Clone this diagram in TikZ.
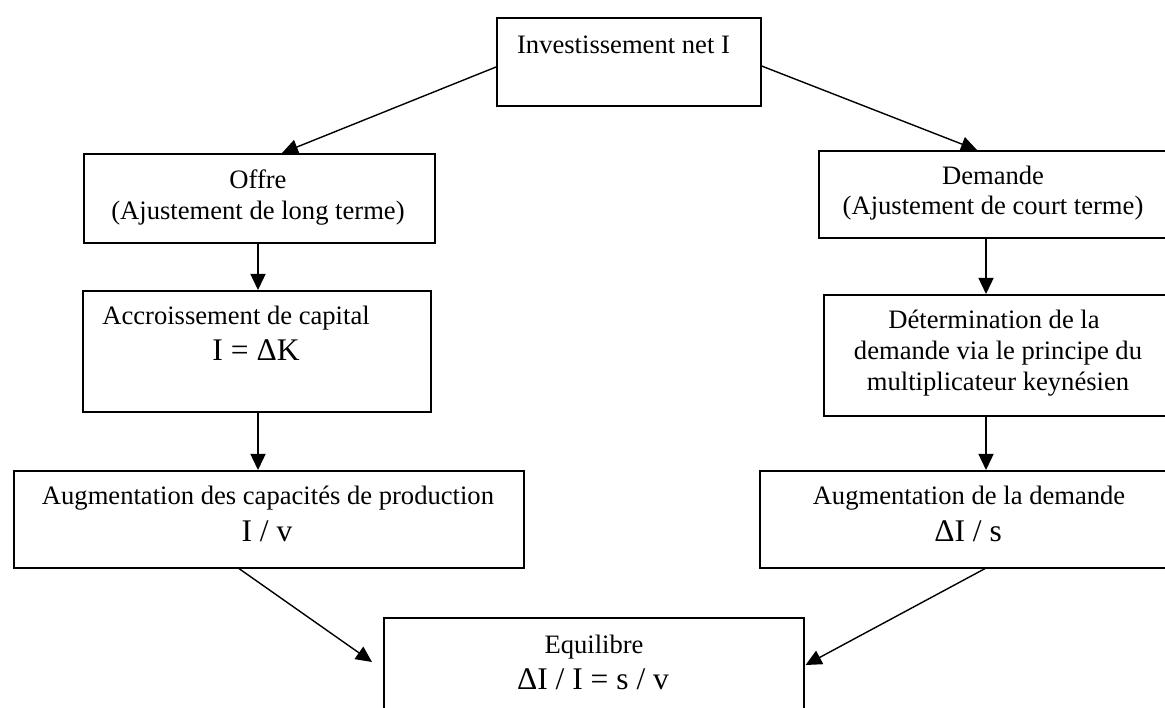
\documentclass[tikz,border=0pt]{standalone}
\usepackage{fontspec}
\setmainfont{Liberation Serif}
\usetikzlibrary{arrows.meta,calc}
\begin{document}
\begin{tikzpicture}[x=1pt,y=-1pt,
  box/.style={draw, line width=1.6pt, inner sep=0pt, anchor=north west},
  txt/.style={anchor=base, inner sep=0pt, font=\fontsize{26.6}{31}\selectfont},
  frm/.style={anchor=base, inner sep=0pt, font=\fontsize{31.5}{36}\selectfont},
  arr/.style={line width=1.4pt, -{Triangle[length=16pt,width=15pt]}}]
\useasboundingbox (0,0) rectangle (1165,708);
\clip (0,0) rectangle (1165,708);
\fill[white] (0,0) rectangle (1165,708);

% top
\node[box, minimum width=264pt, minimum height=88pt] (inv) at (496,17) {};
\node[txt] (invT) at (623.5,54) {Investissement net I};

% left column
\node[box, minimum width=351pt, minimum height=89pt] (off) at (83,153) {};
\node[txt] (offT1) at (258,189) {Offre};
\node[txt] (offT2) at (258,220) {(Ajustement de long terme)};

\node[box, minimum width=348pt, minimum height=121pt] (acc) at (82,290) {};
\node[txt] (accT1) at (236,325) {Accroissement de capital};
\node[frm] (accT2) at (256,361) {I = ΔK};

\node[box, minimum width=510pt, minimum height=97pt] (capa) at (13,470) {};
\node[txt] (capaT1) at (268,504) {Augmentation des capacités de production};
\node[frm] (capaT2) at (267,541) {I / v};

% right column
\node[box, minimum width=350pt, minimum height=87pt] (dem) at (818,150) {};
\node[txt] (demT1) at (993,185) {Demande};
\node[txt] (demT2) at (993,215) {(Ajustement de court terme)};

\node[box, minimum width=346pt, minimum height=121pt] (det) at (823,294) {};
\node[txt] (detT1) at (994,329) {Détermination de la};
\node[txt] (detT2) at (998,360) {demande via le principe du};
\node[txt] (detT3) at (998,391) {multiplicateur keynésien};

\node[box, minimum width=420pt, minimum height=97pt] (aug) at (759,470) {};
\node[txt] (augT1) at (969,504) {Augmentation de la demande};
\node[frm] (augT2) at (968,541) {ΔI / s};

% bottom
\node[box, minimum width=420pt, minimum height=110pt] (eq) at (383,617) {};
\node[txt] (eqT1) at (594,653) {Equilibre};
\node[frm] (eqT2) at (593,689) {ΔI / I = s / v};

% connectors
\draw[arr] ($(inv.north west)+(0,50)$) -- ($(off.north west)+(199,0)$);
\draw[arr] ($(inv.north east)+(0,49)$) -- ($(dem.north west)+(159,0)$);
\draw[arr] ($(off.south west)+(175,0)$) -- ($(acc.north west)+(176,0)$);
\draw[arr] ($(acc.south west)+(176,0)$) -- ($(capa.north west)+(245,0)$);
\draw[arr] ($(dem.south west)+(168,0)$) -- ($(det.north west)+(163,0)$);
\draw[arr] ($(det.south west)+(163,0)$) -- ($(aug.north west)+(227,0)$);
\draw[arr] ($(capa.south west)+(226,0)$) -- ($(eq.north west)+(-11,45)$);
\draw[arr] ($(aug.south west)+(226,0)$) -- ($(eq.north east)+(1,48)$);
\end{tikzpicture}
\end{document}
